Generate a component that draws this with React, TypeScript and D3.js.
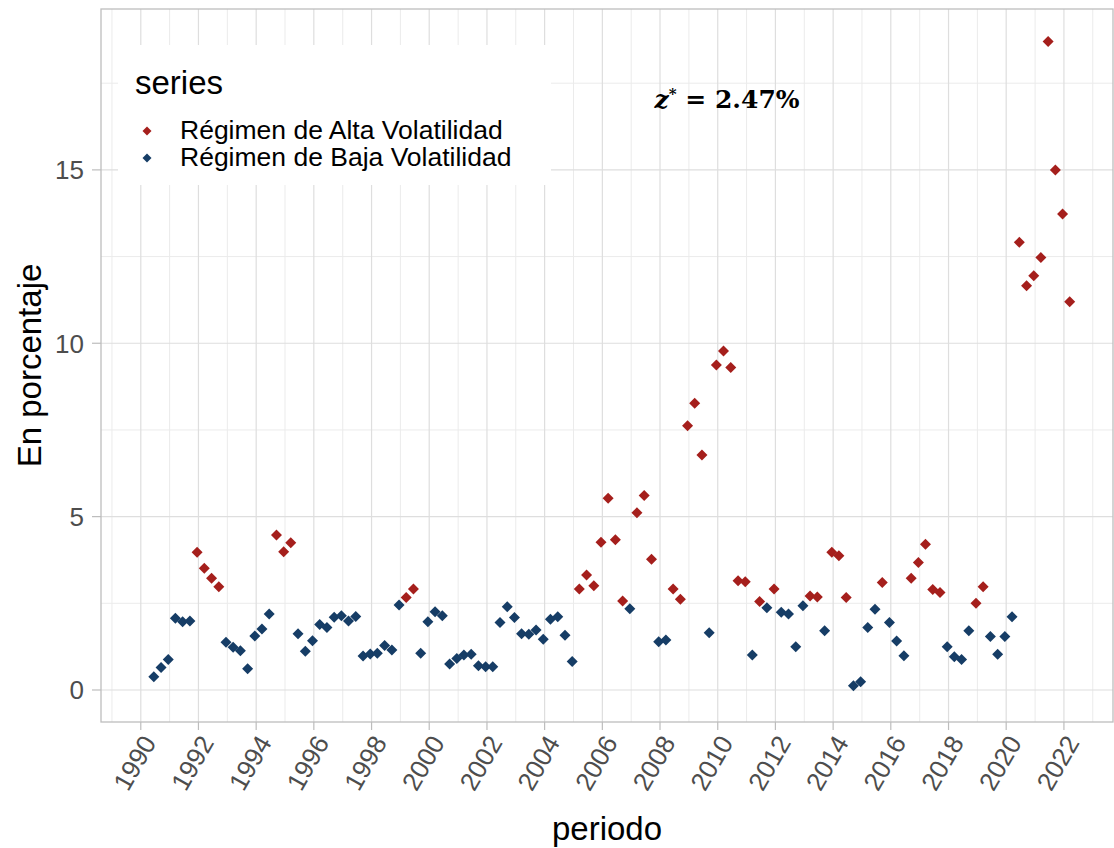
import React from "react";
import * as d3 from "d3";

// ---- data ----
const startQuarter = "1990-06-15"; // first observation; quarterly thereafter
const values: number[] = [
  0.38, 0.65, 0.88, 2.07, 1.97, 1.99, 3.97, 3.51, 3.22, 2.98,
  1.38, 1.23, 1.13, 0.61, 1.56, 1.76, 2.19, 4.47, 3.99, 4.25,
  1.62, 1.12, 1.42, 1.89, 1.80, 2.10, 2.14, 1.99, 2.12, 0.98,
  1.04, 1.06, 1.28, 1.15, 2.45, 2.67, 2.91, 1.06, 1.97, 2.26,
  2.14, 0.75, 0.91, 1.01, 1.03, 0.70, 0.67, 0.67, 1.95, 2.40,
  2.09, 1.62, 1.61, 1.73, 1.46, 2.04, 2.11, 1.58, 0.82, 2.91,
  3.32, 3.01, 4.26, 5.53, 4.33, 2.57, 2.34, 5.11, 5.61, 3.77,
  1.39, 1.44, 2.91, 2.62, 7.62, 8.27, 6.78, 1.65, 9.37, 9.78,
  9.30, 3.15, 3.12, 1.01, 2.55, 2.37, 2.91, 2.24, 2.19, 1.25,
  2.43, 2.71, 2.68, 1.71, 3.97, 3.87, 2.67, 0.12, 0.24, 1.80,
  2.33, 3.10, 1.95, 1.41, 0.99, 3.22, 3.68, 4.20, 2.90, 2.81,
  1.25, 0.96, 0.88, 1.71, 2.50, 2.98, 1.54, 1.03, 1.54, 2.11,
  12.91, 11.66, 11.95, 12.47, 18.70, 15.00, 13.73, 11.20,
];
const regimes: string[] = (
  "BBBBBBAAAA" + "BBBBBBBAAA" + "BBBBBBBBBB" + "BBBBBAABBB" +
  "BBBBBBBBBB" + "BBBBBBBBBA" + "AAAAAABAAA" + "BBAAAAABAA" +
  "AAABABABBB" + "BAABAAABBB" + "BABBBAAAAA" + "BBBBAABBBB" +
  "AAAAAAAA"
).split("");
const seriesNames = ["Régimen de Alta Volatilidad", "Régimen de Baja Volatilidad"];
const seriesColors = ["#A51F1C", "#163D66"];
const yTicks = [0, 5, 10, 15];
const yMinor = [2.5, 7.5, 12.5, 17.5];
const xTickYears = d3.range(1990, 2023, 2);
const xMinorYears = d3.range(1989, 2024, 2);

const W = 1114;
const H = 848;
const L = 101, R = 1113, T = 9, B = 722;

export default function App() {
  const start = new Date(startQuarter);
  const dates = values.map((_, i) => d3.timeMonth.offset(start, 3 * i));
  const x = d3
    .scaleTime()
    .domain([new Date(1988, 7, 28), new Date(2023, 8, 27)])
    .range([102, 1114]);
  const y = d3.scaleLinear().domain([-0.923, 19.64]).range([B, T]);
  const yr = (v: number) => x(new Date(v, 0, 1));

  const diamond = (cx: number, cy: number, r: number) =>
    `M${cx},${cy - r}L${cx + r},${cy}L${cx},${cy + r}L${cx - r},${cy}Z`;

  const font = "'Liberation Sans', Arial, sans-serif";

  return (
    <svg
      width={W}
      height={H}
      style={{ position: "absolute", left: 0, top: 0, background: "#fff" }}
    >
      <rect x={0} y={0} width={W} height={H} fill="#fff" />
      {/* grid */}
      {yMinor.map((v) => (
        <line key={"ym" + v} x1={L} x2={R} y1={y(v)} y2={y(v)} stroke="#EBEBEB" strokeWidth={1} />
      ))}
      {xMinorYears.map((v) => (
        <line key={"xm" + v} x1={yr(v)} x2={yr(v)} y1={T} y2={B} stroke="#EBEBEB" strokeWidth={1} />
      ))}
      {yTicks.map((v) => (
        <line key={"yM" + v} x1={L} x2={R} y1={y(v)} y2={y(v)} stroke="#DEDEDE" strokeWidth={1.2} />
      ))}
      {xTickYears.map((v) => (
        <line key={"xM" + v} x1={yr(v)} x2={yr(v)} y1={T} y2={B} stroke="#DEDEDE" strokeWidth={1.2} />
      ))}
      {/* panel border */}
      <rect x={L} y={T} width={R - L} height={B - T} fill="none" stroke="#BDBDBD" strokeWidth={1.3} />

      {/* axis ticks and labels */}
      {yTicks.map((v) => (
        <g key={"yt" + v}>
          <line x1={92} x2={L} y1={y(v)} y2={y(v)} stroke="#BDBDBD" strokeWidth={1.2} />
          <text
            x={84}
            y={y(v)}
            dy="0.36em"
            textAnchor="end"
            fontFamily={font}
            fontSize={26}
            fill="#4D4D4D"
          >
            {v}
          </text>
        </g>
      ))}
      {xTickYears.map((v) => (
        <g key={"xt" + v}>
          <line x1={yr(v)} x2={yr(v)} y1={B} y2={B + 8} stroke="#BDBDBD" strokeWidth={1.2} />
          <text
            transform={`translate(${yr(v)},${B + 11}) rotate(-60)`}
            dy="0.72em"
            textAnchor="end"
            fontFamily={font}
            fontSize={26}
            fill="#4D4D4D"
          >
            {v}
          </text>
        </g>
      ))}

      {/* axis titles */}
      <text x={(L + R) / 2} y={840} textAnchor="middle" fontFamily={font} fontSize={33} fill="#000">
        periodo
      </text>
      <text
        transform={`translate(41,${(T + B) / 2}) rotate(-90)`}
        textAnchor="middle"
        fontFamily={font}
        fontSize={33}
        fill="#000"
      >
        En porcentaje
      </text>

      {/* legend */}
      <rect x={118} y={45} width={433} height={140} fill="#fff" />
      <text x={135} y={93.5} fontFamily={font} fontSize={33} fill="#000">
        series
      </text>
      {seriesNames.map((s, i) => (
        <g key={s}>
          <path d={diamond(147, 131 + 27 * i, 4.5)} fill={seriesColors[i]} />
          <text x={180} y={139 + 27 * i} fontFamily={font} fontSize={26.5} fill="#000">
            {s}
          </text>
        </g>
      ))}

      {/* annotation */}
      <text
        x={727}
        y={108}
        textAnchor="middle"
        fontFamily="'DejaVu Serif', serif"
        fontWeight="bold"
        fontSize={25}
        fill="#000"
      >
        <tspan fontStyle="italic">z</tspan>
        <tspan dy={-9} fontSize={15}>*</tspan>
        <tspan dy={9}>{" = 2.47%"}</tspan>
      </text>

      {/* points */}
      {values.map((v, i) => (
        <path
          key={"p" + i}
          d={diamond(x(dates[i]), y(v), 5.5)}
          fill={regimes[i] === "A" ? seriesColors[0] : seriesColors[1]}
        />
      ))}
    </svg>
  );
}
